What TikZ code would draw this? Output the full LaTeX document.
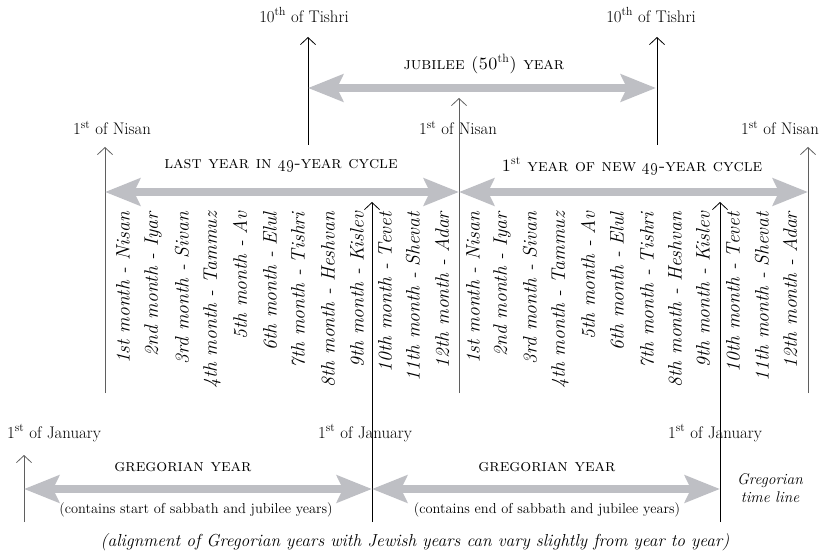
\documentclass[tikz,border=0pt]{standalone}
\usetikzlibrary{arrows.meta}
\definecolor{bandgray}{RGB}{190,191,196}
\definecolor{linegray}{RGB}{95,95,95}
\begin{document}
\begin{tikzpicture}[x=1pt,y=-1pt,
  lbl/.style={inner sep=0pt, font=\fontsize{16.8}{19}\selectfont},
  sclbl/.style={inner sep=0pt, font=\fontsize{17.2}{19}\selectfont\scshape},
  sublbl/.style={inner sep=0pt, font=\fontsize{14.4}{17}\selectfont},
  itlbl/.style={inner sep=0pt, font=\fontsize{15.5}{18}\selectfont\itshape, align=center},
  caplbl/.style={inner sep=0pt, font=\fontsize{17.4}{19}\selectfont\itshape},
  mon/.style={inner sep=0pt, rotate=90, anchor=east, font=\fontsize{19.5}{21}\selectfont\itshape},
  bandarrow/.style={draw=bandgray, line width=8pt,
    {Stealth[length=35pt,width=27pt,inset=6pt]}-{Stealth[length=35pt,width=27pt,inset=6pt]}},
  upline/.style={draw=black, line width=0.8pt, -{Straight Barb[length=7pt,width=15pt,line width=0.8pt]}},
  upgray/.style={upline, draw=linegray}
]
\useasboundingbox (0,0) rectangle (825,556);

% ---------- top labels ----------
\node[lbl] (tishriL) at (304,15) {10\textsuperscript{th} of Tishri};
\node[lbl] (tishriR) at (651,15) {10\textsuperscript{th} of Tishri};
\node[sclbl] (jubilee) at (484,64) {jubilee (50\textsuperscript{\textnormal{th}}) year};
\node[lbl] (nisanL) at (112,128) {1\textsuperscript{st} of Nisan};
\node[lbl] (nisanM) at (458,128) {1\textsuperscript{st} of Nisan};
\node[lbl] (nisanR) at (780,128) {1\textsuperscript{st} of Nisan};
\node[sclbl] (cycleL) at (281,166) {last year in \oldstylenums{49}-year cycle};
\node[sclbl] (cycleR) at (632,166) {1\textsuperscript{\textnormal{st}} year of new \oldstylenums{49}-year cycle};

% ---------- coordinates ----------
\coordinate (tLtop) at (308,37);  \coordinate (tLbot) at (308,145);
\coordinate (tRtop) at (657,37);  \coordinate (tRbot) at (657,145);
\coordinate (jubA) at (308,88);   \coordinate (jubB) at (656,88);
\coordinate (nLtop) at (105,147); \coordinate (nLbot) at (105,393);
\coordinate (nMtop) at (459,98);  \coordinate (nMbot) at (459,393);
\coordinate (nRtop) at (808,147); \coordinate (nRbot) at (808,393);
\coordinate (yLa) at (105,192);   \coordinate (yLb) at (459,192);
\coordinate (yRa) at (459,192);   \coordinate (yRb) at (808,192);
\coordinate (kLtop) at (372,202); \coordinate (kLbot) at (372,522);
\coordinate (kRtop) at (720,202); \coordinate (kRbot) at (720,522);
\coordinate (gLtop) at (24,455);  \coordinate (gLbot) at (24,522);
\coordinate (gLa) at (24,489);    \coordinate (gLb) at (372,489);
\coordinate (gRa) at (372,489);   \coordinate (gRb) at (720,489);

% ---------- vertical marker lines ----------
\draw[upline] (tLbot) -- (tLtop);
\draw[upline] (tRbot) -- (tRtop);
\draw[upgray] (nLbot) -- (nLtop);
\draw[upgray] (nMbot) -- (nMtop);
\draw[upgray] (nRbot) -- (nRtop);
\draw[upline] (kLbot) -- (kLtop);
\draw[upline] (kRbot) -- (kRtop);
\draw[upgray] (gLbot) -- (gLtop);

% ---------- gray band arrows ----------
\draw[bandarrow] (jubA) -- (jubB);
\draw[bandarrow] (yLa) -- (yLb);
\draw[bandarrow] (yRa) -- (yRb);
\draw[bandarrow] (gLa) -- (gLb);
\draw[bandarrow] (gRa) -- (gRb);

% ---------- month labels ----------
\foreach \t/\xx [count=\i] in {1st month - Nisan/123, 2nd month - Iyar/153, 3rd month - Sivan/182,
  4th month - Tammuz/212, 5th month - Av/240, 6th month - Elul/270, 7th month - Tishri/298,
  8th month - Heshvan/328, 9th month - Kislev/357, 10th month - Tevet/385,
  11th month - Shevat/413, 12th month - Adar/442}
  \node[mon] (mL\i) at (\xx,212) {\t};
\foreach \t/\xx [count=\i] in {1st month - Nisan/473, 2nd month - Iyar/502, 3rd month - Sivan/530,
  4th month - Tammuz/560, 5th month - Av/588, 6th month - Elul/617, 7th month - Tishri/647,
  8th month - Heshvan/675, 9th month - Kislev/703, 10th month - Tevet/733,
  11th month - Shevat/762, 12th month - Adar/790}
  \node[mon] (mR\i) at (\xx,212) {\t};

% ---------- Gregorian part ----------
\node[lbl] (janL) at (54,433) {1\textsuperscript{st} of January};
\node[lbl] (janM) at (365,433) {1\textsuperscript{st} of January};
\node[lbl] (janR) at (715,433) {1\textsuperscript{st} of January};
\node[sclbl] (gregL) at (183,467) {gregorian year};
\node[sclbl] (gregR) at (547,467) {gregorian year};
\node[sublbl] (contL) at (196,510) {(contains start of sabbath and jubilee years)};
\node[sublbl] (contR) at (547,510) {(contains end of sabbath and jubilee years)};
\node[itlbl] (gtl) at (770,488) {Gregorian\\time line};
\node[caplbl] (caption) at (415,542) {(alignment of Gregorian years with Jewish years can vary slightly from year to year)};
\end{tikzpicture}
\end{document}
